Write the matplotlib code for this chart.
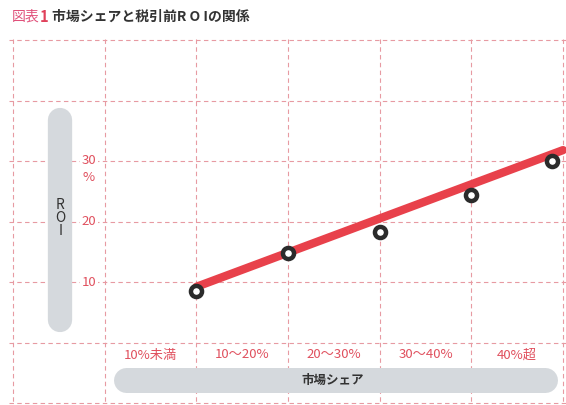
import matplotlib
matplotlib.use('Agg')
import matplotlib.pyplot as plt
import numpy as np

plt.rcParams['font.family'] = ['Noto Sans CJK JP', 'DejaVu Sans']

# ---- data ----
categories = ['10%未満', '10～20%', '20～30%', '30～40%', '40%超']
roi_values = [8.5, 14.8, 18.3, 24.4, 30.0]
trend_values = [9.2, 31.8]          # trend line at start / end
y_ticks = [10, 20, 30]
title_tag = '図表'
title_num = '1'
title_text = '市場シェアと税引前R O Iの関係'
x_title = '市場シェア'
y_title = 'R\nO\nI'

# ---- layout helpers (pixel -> data for decorations) ----
W, H = 566, 405
def px2x(px):
    return -1 + (px - 13) / 91.67
def py2y(py):
    return 10 + (282 - py) / 6.05

grid_c = '#e79aa2'
red = '#e8414b'
tick_c = '#e0505e'
pill_c = '#d5d9dd'

fig = plt.figure(figsize=(W / 100, H / 100), dpi=100)
ax = fig.add_axes([0, 0, 1, 1])
ax.set_xlim(px2x(0), px2x(W))
ax.set_ylim(py2y(H), py2y(0))
ax.axis('off')

n = len(categories)
# grid
for xv in range(-1, n + 1):
    ax.plot([xv, xv], [py2y(39), py2y(H)], color=grid_c, lw=0.8,
            dashes=(4, 3), zorder=1)
for yv in range(-10, 60, 10):
    ax.plot([px2x(9), px2x(W)], [yv, yv], color=grid_c, lw=0.8,
            dashes=(4, 3), zorder=1)

# y-axis pill
ax.plot([px2x(60), px2x(60)], [py2y(120), py2y(320)], color=pill_c,
        lw=17.5, solid_capstyle='round', zorder=2)
ax.text(px2x(60.5), py2y(218), y_title, ha='center', va='center',
        fontsize=10, color='#333333', linespacing=0.95, zorder=3)

# x-axis pill
ax.plot([px2x(126), px2x(545)], [py2y(379.5), py2y(379.5)], color=pill_c,
        lw=18, solid_capstyle='round', zorder=2)
ax.text(px2x(333), py2y(380), x_title, ha='center', va='center',
        fontsize=9, color='#333333', weight='bold', zorder=3)

# y tick labels
ytx = px2x(89)
for t in y_ticks:
    ax.text(ytx, t, str(t), ha='center', va='center', fontsize=9.5,
            color=tick_c, zorder=3,
            bbox=dict(fc='white', ec='none', pad=1))
ax.annotate('%', xy=(ytx, y_ticks[-1]), xytext=(0, -12),
            textcoords='offset points', ha='center', va='center',
            fontsize=9.5, color=tick_c, zorder=3)

# x category labels
for i, c in enumerate(categories):
    ax.text(i + 0.5, py2y(355), c, ha='center', va='center',
            fontsize=9.5, color=tick_c, zorder=3)

# trend line
ax.plot([1, n], trend_values, color=red, lw=6, solid_capstyle='round',
        zorder=4)

# data points (on the right edge of each share column)
mx = np.arange(1, n + 1, dtype=float)
mx[-1] -= 0.12
ax.plot(mx, roi_values, 'o', ms=8, mfc='white', mec='#2b2b2b', mew=3.2,
        zorder=5)

# title
fig.text(12 / W, 1 - 17 / H, title_tag, ha='left', va='center',
         fontsize=10, color='#e0507a')
fig.text(40 / W, 1 - 17 / H, title_num, ha='left', va='center',
         fontsize=10.5, color='#e0405a', weight='bold')
fig.text(52 / W, 1 - 17 / H, title_text, ha='left', va='center',
         fontsize=10, color='#333333', weight='bold')

fig.savefig('out.png', dpi=100)
